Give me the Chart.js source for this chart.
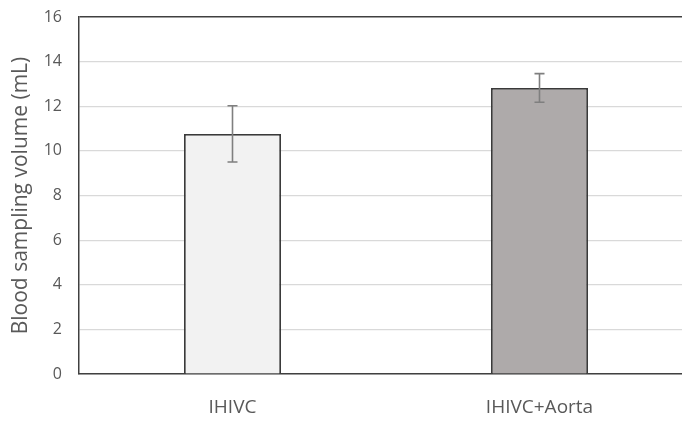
<!DOCTYPE html>
<html>
<head>
<meta charset="utf-8">
<script src="https://cdn.jsdelivr.net/npm/chart.js@4"></script>
<style>
  html, body { margin: 0; padding: 0; background: #fff; overflow: hidden; }
  #wrap { width: 700px; height: 421px; position: relative; }
</style>
</head>
<body>
<div id="wrap"><canvas id="chart"></canvas></div>
<script>
// Datos del gráfico
const categories = ['IHIVC', 'IHIVC+Aorta'];
const volumes = [10.76, 12.82];
const errors = [1.26, 0.64];
const barColors = ['#f2f2f2', '#aeaaaa'];
const yTicks = [0, 2, 4, 6, 8, 10, 12, 14, 16];

// Plugin para dibujar las barras de error
const errorBarPlugin = {
  id: 'errorBars',
  afterDatasetsDraw(chart) {
    const ctx = chart.ctx;
    const yScale = chart.scales.y;
    const meta = chart.getDatasetMeta(0);
    ctx.save();
    ctx.strokeStyle = '#7f7f7f';
    ctx.lineWidth = 1.6;
    meta.data.forEach((bar, i) => {
      const x = bar.x;
      const top = yScale.getPixelForValue(volumes[i] + errors[i]);
      const bottom = yScale.getPixelForValue(volumes[i] - errors[i]);
      ctx.beginPath();
      ctx.moveTo(x, top);
      ctx.lineTo(x, bottom);
      ctx.moveTo(x - 5, top);
      ctx.lineTo(x + 5, top);
      ctx.moveTo(x - 5, bottom);
      ctx.lineTo(x + 5, bottom);
      ctx.stroke();
    });
    ctx.restore();
  }
};

new Chart(document.getElementById('chart').getContext('2d'), {
  type: 'bar',
  data: {
    labels: categories,
    datasets: [{
      data: volumes,
      backgroundColor: barColors,
      borderColor: '#3a3a3a',
      borderWidth: 1.8,
      categoryPercentage: 1,
      barPercentage: 0.316
    }]
  },
  options: {
    responsive: true,
    maintainAspectRatio: false,
    animation: false,
    layout: { padding: { top: 17, right: 7, left: 0, bottom: 0 } },
    plugins: {
      legend: { display: false },
      tooltip: { enabled: false }
    },
    scales: {
      x: {
        afterFit: axis => { axis.height = 47; },
        grid: { display: false, drawTicks: false },
        border: { display: true, color: '#404040', width: 1.5 },
        ticks: {
          color: '#595959',
          font: { family: 'Open Sans', size: 19 },
          padding: 22
        }
      },
      y: {
        min: 0,
        max: 16,
        afterFit: axis => {
          axis.width = 79;
          axis.paddingTop = 0;
          axis.paddingBottom = 0;
        },
        afterBuildTicks: axis => { axis.ticks = yTicks.map(v => ({ value: v })); },
        grid: {
          drawTicks: false,
          color: ctx => ctx.tick && ctx.tick.value === 16 ? '#404040' : '#d9d9d9',
          lineWidth: ctx => ctx.tick && ctx.tick.value === 16 ? 1.5 : 1.2
        },
        border: { display: true, color: '#404040', width: 1.5 },
        ticks: {
          color: '#595959',
          font: { family: 'Open Sans', size: 16 },
          padding: 17
        },
        title: {
          display: true,
          text: 'Blood sampling volume (mL)',
          color: '#595959',
          font: { family: 'Open Sans', size: 21 },
          padding: { top: 8, bottom: 0 }
        }
      }
    }
  },
  plugins: [errorBarPlugin]
});
</script>
</body>
</html>
